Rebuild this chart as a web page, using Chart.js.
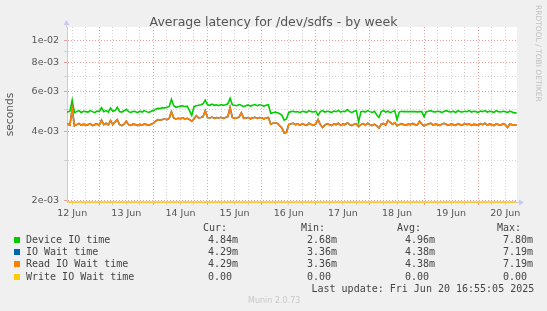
<!DOCTYPE html>
<html>
<head>
<meta charset="utf-8">
<script src="https://cdn.jsdelivr.net/npm/chart.js@4.4.1/dist/chart.umd.min.js"></script>
<style>
  body { margin: 0; background: #f0f0f0; }
  #wrap { position: relative; width: 547px; height: 311px; overflow: hidden; background: #f0f0f0; }
  #wrap canvas { position: absolute; left: 0; top: 0; }
  .txt { position: absolute; white-space: pre; line-height: 12px; }
  .title { left: 0; width: 547px; top: 14px; text-align: center; font: 12.5px "DejaVu Sans"; color: #555; line-height: 15px; }
  .mono { font: 10px "DejaVu Sans Mono"; color: #444; }
  .swatch { position: absolute; width: 6px; height: 6px; }
  .munin { font: 8px "DejaVu Sans"; color: #c8c8c8; }
  .rrd { writing-mode: vertical-rl; font: 7.5px "DejaVu Sans"; color: #c0c0c0; }
</style>
</head>
<body>
<div id="wrap">
  <canvas id="latencyChart" width="547" height="311"></canvas>
  <div class="txt title">Average latency for /dev/sdfs - by week</div>
  <div class="txt rrd" style="left:534px; top:5px;">RRDTOOL / TOBI OETIKER</div>
</div>
<script>
// hours since 12 Jun 00:00, one sample per hour
const startHour = 9;
const hours = [];
for (let h = startHour; h <= 209; h++) hours.push(h);

// values in milliseconds
const deviceMs = [
  4.90,4.88,4.92,5.50,4.85,4.90,4.95,4.86,4.92,4.90,4.88,4.95,
  4.90,4.85,4.93,4.90,5.10,4.90,4.95,4.88,5.08,4.92,4.95,5.12,
  4.90,4.88,4.94,5.02,4.90,4.86,4.92,4.90,4.85,4.92,4.88,4.95,
  4.90,4.86,4.92,4.95,5.02,5.06,5.05,5.10,5.08,5.12,5.15,5.55,
  5.20,5.12,5.15,5.18,5.20,5.15,5.18,4.95,4.72,5.15,5.20,5.22,
  5.25,5.30,5.50,5.25,5.22,5.28,5.22,5.25,5.20,5.26,5.22,5.25,
  5.30,5.60,5.25,5.22,5.20,5.26,5.22,5.15,5.20,5.24,5.18,5.22,
  5.26,5.20,5.25,5.22,5.18,5.22,5.25,4.82,4.85,4.88,4.85,4.80,
  4.72,4.50,4.55,4.86,4.90,4.92,4.88,4.90,4.85,4.92,4.90,4.86,
  4.95,4.90,4.88,4.92,4.72,4.90,4.95,4.88,4.92,4.90,4.86,4.93,
  4.90,4.96,4.88,4.92,4.90,5.00,4.90,4.86,4.92,4.95,4.42,4.90,
  4.92,4.88,4.95,4.90,4.86,4.92,4.75,4.62,4.90,4.95,4.88,4.92,
  4.85,4.90,4.95,4.52,4.88,4.92,4.90,4.90,4.90,4.91,4.90,4.90,
  4.89,4.90,4.90,4.65,4.90,4.92,4.95,4.90,4.88,4.92,4.90,4.86,
  4.92,4.95,4.90,4.88,4.92,4.86,4.95,4.90,4.88,4.92,4.90,4.95,
  4.88,4.92,4.90,4.86,4.93,4.90,4.95,4.88,4.92,4.90,4.86,4.95,
  4.90,4.88,4.92,4.90,4.86,4.92,4.88,4.84,4.84
];

const readWaitMs = [
  4.30,4.32,4.28,5.05,4.25,4.30,4.35,4.27,4.32,4.28,4.30,4.34,
  4.26,4.30,4.33,4.28,4.50,4.30,4.36,4.28,4.48,4.30,4.42,4.52,
  4.30,4.26,4.32,4.45,4.30,4.27,4.32,4.30,4.26,4.31,4.28,4.33,
  4.30,4.27,4.32,4.36,4.45,4.52,4.50,4.53,4.55,4.52,4.58,4.90,
  4.60,4.55,4.58,4.56,4.60,4.55,4.58,4.52,4.45,4.55,4.70,4.60,
  4.62,4.65,4.95,4.62,4.60,4.64,4.58,4.62,4.60,4.63,4.58,4.62,
  4.66,5.10,4.62,4.58,4.60,4.64,4.85,4.58,4.60,4.62,4.56,4.60,
  4.63,4.58,4.62,4.60,4.56,4.60,4.62,4.32,4.36,4.38,4.35,4.25,
  4.15,3.95,3.98,4.30,4.34,4.36,4.30,4.33,4.28,4.34,4.30,4.27,
  4.36,4.31,4.28,4.33,4.52,4.30,4.18,4.28,4.34,4.30,4.26,4.33,
  4.30,4.36,4.27,4.32,4.30,4.38,4.30,4.26,4.32,4.34,4.22,4.30,
  4.34,4.28,4.36,4.30,4.26,4.32,4.25,4.15,4.32,4.35,4.28,4.48,
  4.40,4.32,4.38,4.25,4.30,4.34,4.30,4.28,4.32,4.30,4.35,4.30,
  4.28,4.45,4.32,4.25,4.30,4.33,4.36,4.28,4.32,4.30,4.27,4.33,
  4.36,4.30,4.28,4.32,4.30,4.27,4.34,4.30,4.28,4.35,4.30,4.33,
  4.27,4.31,4.30,4.28,4.34,4.30,4.36,4.28,4.32,4.30,4.26,4.33,
  4.30,4.28,4.34,4.30,4.18,4.32,4.30,4.29,4.29
];

// IO wait is identical to read wait in this graph
const ioWaitMs = readWaitMs;
const writeWaitMs = hours.map(() => 0);

const seriesNames = ['Device IO time', 'IO Wait time', 'Read IO Wait time', 'Write IO Wait time'];
const seriesColors = ['#00cc00', '#0066b3', '#ff8000', '#ffcc00'];
const curValues = ['4.84m', '4.29m', '4.29m', '0.00'];
const minValues = ['2.68m', '3.36m', '3.36m', '0.00'];
const avgValues = ['4.96m', '4.38m', '4.38m', '0.00'];
const maxValues = ['7.80m', '7.19m', '7.19m', '0.00'];

const yGridValues = [0.002, 0.003, 0.004, 0.005, 0.006, 0.007, 0.008, 0.009, 0.01];
const yGridLabels = ['2e-03', '', '4e-03', '', '6e-03', '', '8e-03', '', '1e-02'];
const dayLabels = ['12 Jun', '13 Jun', '14 Jun', '15 Jun', '16 Jun', '17 Jun', '18 Jun', '19 Jun', '20 Jun'];

const xGridHours = [];
for (let h = 12; h <= 204; h += 6) xGridHours.push(h);

const yMin = 0.001976;
const yMax = 0.01147;
const majorGrid = '#e4a0a0';
const minorGrid = '#d2d2d2';
const axisColor = '#c8c8f0';

// rrdtool draws values below the axis on the bottom edge
function toPoints(ms) {
  return ms.map((v, i) => ({ x: hours[i], y: Math.max(v / 1000, yMin) }));
}

const plotBackground = {
  id: 'plotBackground',
  beforeDraw(chart) {
    const { ctx, chartArea: a } = chart;
    ctx.save();
    ctx.fillStyle = '#ffffff';
    ctx.fillRect(a.left, a.top, a.right - a.left, a.bottom - a.top);
    ctx.restore();
  },
  afterDraw(chart) {
    const { ctx, chartArea: a } = chart;
    ctx.save();
    ctx.fillStyle = axisColor;
    ctx.strokeStyle = axisColor;
    ctx.lineWidth = 1;
    ctx.beginPath();
    ctx.moveTo(a.left - 0.5, a.top);
    ctx.lineTo(a.left - 0.5, a.top - 3);
    ctx.moveTo(a.right, a.bottom + 0.5);
    ctx.lineTo(a.right + 3, a.bottom + 0.5);
    ctx.stroke();
    ctx.beginPath();
    ctx.moveTo(a.left - 3.5, a.top - 2);
    ctx.lineTo(a.left + 2.5, a.top - 2);
    ctx.lineTo(a.left - 0.5, a.top - 7);
    ctx.closePath();
    ctx.fill();
    ctx.beginPath();
    ctx.moveTo(a.right + 2, a.bottom - 2.5);
    ctx.lineTo(a.right + 2, a.bottom + 3.5);
    ctx.lineTo(a.right + 7, a.bottom + 0.5);
    ctx.closePath();
    ctx.fill();
    ctx.restore();
  }
};

const tickFont = { family: 'DejaVu Sans', size: 9.5 };

new Chart(document.getElementById('latencyChart').getContext('2d'), {
  type: 'line',
  data: {
    datasets: [
      { label: seriesNames[0], data: toPoints(deviceMs), borderColor: seriesColors[0], order: 3 },
      { label: seriesNames[1], data: toPoints(ioWaitMs), borderColor: seriesColors[1], order: 2 },
      { label: seriesNames[2], data: toPoints(readWaitMs), borderColor: seriesColors[2], order: 1 },
      { label: seriesNames[3], data: toPoints(writeWaitMs), borderColor: seriesColors[3], order: 0,
        clip: { left: 0, right: 0, top: 0, bottom: 3 } }
    ]
  },
  options: {
    responsive: false,
    animation: false,
    devicePixelRatio: 1,
    parsing: false,
    elements: {
      line: { borderWidth: 1.6, tension: 0, fill: false },
      point: { radius: 0 }
    },
    layout: { padding: { top: 27, right: 30, bottom: 0, left: 0 } },
    scales: {
      x: {
        type: 'linear',
        min: 9.7,
        max: 209.2,
        bounds: 'data',
        afterFit(scale) { scale.height = 109; },
        afterBuildTicks(scale) { scale.ticks = xGridHours.map(h => ({ value: h })); },
        grid: {
          color: (c) => (c.tick && c.tick.value % 24 === 0 ? majorGrid : minorGrid),
          lineWidth: 1,
          drawTicks: true,
          tickLength: 3
        },
        border: { color: axisColor, width: 1, dash: [1, 2] },
        ticks: {
          autoSkip: false,
          maxRotation: 0,
          padding: 3,
          color: '#555',
          font: tickFont,
          callback(value) {
            if ((value - 12) % 24 !== 0) return '';
            return dayLabels[(value - 12) / 24];
          }
        }
      },
      y: {
        type: 'logarithmic',
        min: yMin,
        max: yMax,
        bounds: 'data',
        afterFit(scale) { scale.width = 67; },
        afterBuildTicks(scale) { scale.ticks = yGridValues.map(v => ({ value: v })); },
        grid: {
          color: (c) => (yGridLabels[c.index] ? majorGrid : minorGrid),
          lineWidth: 1,
          drawTicks: true,
          tickLength: 3
        },
        border: { color: axisColor, width: 1, dash: [1, 2] },
        title: {
          display: true,
          text: 'seconds',
          color: '#555',
          font: { family: 'DejaVu Sans', size: 10.7 },
          padding: { top: 4, bottom: 0 }
        },
        ticks: {
          autoSkip: false,
          padding: 5,
          color: '#555',
          font: tickFont,
          callback: (value, index) => yGridLabels[index]
        }
      }
    },
    plugins: {
      legend: { display: false },
      title: { display: false },
      tooltip: { enabled: false }
    }
  },
  plugins: [plotBackground]
});

// legend table under the plot
const wrap = document.getElementById('wrap');
function addText(cls, text, left, top) {
  const d = document.createElement('div');
  d.className = 'txt ' + cls;
  d.textContent = text;
  d.style.left = left + 'px';
  d.style.top = top + 'px';
  wrap.appendChild(d);
}
const headerTop = 221.5;
const rowStep = 12.3;
addText('mono', 'Cur:', 203, headerTop);
addText('mono', 'Min:', 301, headerTop);
addText('mono', 'Avg:', 397, headerTop);
addText('mono', 'Max:', 497, headerTop);
seriesNames.forEach((name, i) => {
  const top = headerTop + rowStep * (i + 1);
  const sw = document.createElement('div');
  sw.className = 'swatch';
  sw.style.left = '14px';
  sw.style.top = (top + 3) + 'px';
  sw.style.background = seriesColors[i];
  wrap.appendChild(sw);
  addText('mono', name, 26, top);
  addText('mono', curValues[i], 208, top);
  addText('mono', minValues[i], 307, top);
  addText('mono', avgValues[i], 405, top);
  addText('mono', maxValues[i], 503, top);
});
addText('mono', 'Last update: Fri Jun 20 16:55:05 2025', 311.5, headerTop + rowStep * 5);
addText('munin', 'Munin 2.0.73', 248, 296);
</script>
</body>
</html>
